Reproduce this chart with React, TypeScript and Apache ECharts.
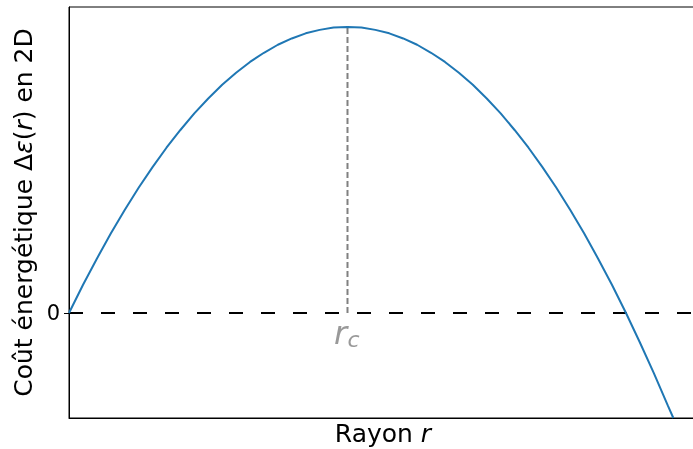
import React, { useEffect, useRef } from "react";
import * as echarts from "echarts";

// Rayon r (unités de r_c) et coût énergétique
const radius = [
  0, 0.05, 0.1, 0.15, 0.2, 0.25, 0.3, 0.35, 0.4, 0.45, 0.5, 0.55, 0.6, 0.65, 0.7, 0.75, 0.8, 0.85, 0.9, 0.95,
  1.0, 1.05, 1.1, 1.15, 1.2, 1.25, 1.3, 1.35, 1.4, 1.45, 1.5, 1.55, 1.6, 1.65, 1.7, 1.75, 1.8, 1.85, 1.9, 1.95,
  2.0, 2.05, 2.1, 2.15, 2.17,
];
const energy = [
  0, 0.098, 0.19, 0.278, 0.36, 0.438, 0.51, 0.578, 0.64, 0.698, 0.75, 0.798, 0.84, 0.878, 0.91, 0.938, 0.96, 0.978, 0.99, 0.998,
  1.0, 0.998, 0.99, 0.978, 0.96, 0.938, 0.91, 0.878, 0.84, 0.798, 0.75, 0.698, 0.64, 0.578, 0.51, 0.438, 0.36, 0.278, 0.19, 0.098,
  0, -0.103, -0.21, -0.323, -0.367,
];
const rCritical = 1.0;
const energyMax = 1.0;
const xRange = [0, 2.255];
const yRange = [-0.367, 1.07];
const yTickValues = [0];
const yTickLabels = ["0"];

const FONT = "DejaVu Sans";

export default function App() {
  const ref = useRef<HTMLDivElement>(null);
  useEffect(() => {
    if (!ref.current) return;
    const chart = echarts.init(ref.current, undefined, { renderer: "svg" });
    const curve = radius.map((r, i) => [r, energy[i]]);
    chart.setOption({
      animation: false,
      grid: {
        left: 69, top: 7, right: -4, bottom: 31,
        containLabel: false, outerBoundsMode: "none",
        show: true, borderColor: "#000", borderWidth: 1, backgroundColor: "transparent",
      },
      xAxis: {
        type: "value",
        min: xRange[0],
        max: xRange[1],
        axisLine: { show: true, onZero: false, lineStyle: { color: "#000", width: 1 } },
        axisTick: { show: false },
        axisLabel: { show: false },
        splitLine: { show: false },
        name: "{n|Rayon }{i|r}",
        nameLocation: "middle",
        nameGap: 3,
        nameTextStyle: {
          verticalAlign: "top",
          rich: {
            n: { fontFamily: FONT, fontSize: 25, color: "#000" },
            i: { fontFamily: FONT, fontSize: 25, color: "#000", fontStyle: "italic" },
          },
        },
      },
      yAxis: {
        type: "value",
        min: yRange[0],
        max: yRange[1],
        axisLine: { show: true, onZero: false, lineStyle: { color: "#000", width: 1 } },
        axisTick: { show: true, length: 5, customValues: yTickValues, lineStyle: { color: "#000", width: 1 } },
        axisLabel: {
          show: true,
          customValues: yTickValues,
          formatter: (v: number) => yTickLabels[yTickValues.indexOf(v)] ?? "",
          fontFamily: FONT,
          fontSize: 21,
          color: "#000",
          margin: 9,
        },
        splitLine: { show: false },
        name: "{n|Coût énergétique Δ}{i|ε}{n|(}{i|r}{n|) en 2D}",
        nameLocation: "middle",
        nameRotate: 90,
        nameGap: 32,
        nameTextStyle: {
          rich: {
            n: { fontFamily: FONT, fontSize: 25, color: "#000" },
            i: { fontFamily: FONT, fontSize: 25, color: "#000", fontStyle: "italic" },
          },
        },
      },
      series: [
        {
          type: "line",
          data: [[xRange[0], 0], [xRange[1], 0]],
          showSymbol: false,
          silent: true,
          lineStyle: { color: "#000", width: 2, type: [14, 18] },
          z: 2,
        },
        {
          type: "line",
          data: [[rCritical, 0], [rCritical, energyMax]],
          showSymbol: false,
          silent: true,
          lineStyle: { color: "#808080", width: 2, type: [6, 3] },
          z: 2,
        },
        {
          type: "line",
          data: curve,
          smooth: false,
          showSymbol: false,
          silent: true,
          lineStyle: { color: "#1f77b4", width: 2 },
          z: 3,
        },
        {
          type: "scatter",
          symbolSize: 0,
          silent: true,
          data: [
            {
              value: [rCritical, 0],
              label: { show: true, formatter: "r", position: "inside", offset: [-7, 20], fontFamily: FONT, fontSize: 32, fontStyle: "italic", color: "#808080" },
            },
            {
              value: [rCritical, 0],
              label: { show: true, formatter: "c", position: "inside", offset: [6, 26], fontFamily: FONT, fontSize: 22, fontStyle: "italic", color: "#808080" },
            },
          ],
          z: 4,
        },
      ],
    });
    return () => chart.dispose();
  }, []);
  return <div ref={ref} style={{ position: "fixed", left: 0, top: 0, width: 693, height: 449 }} />;
}
